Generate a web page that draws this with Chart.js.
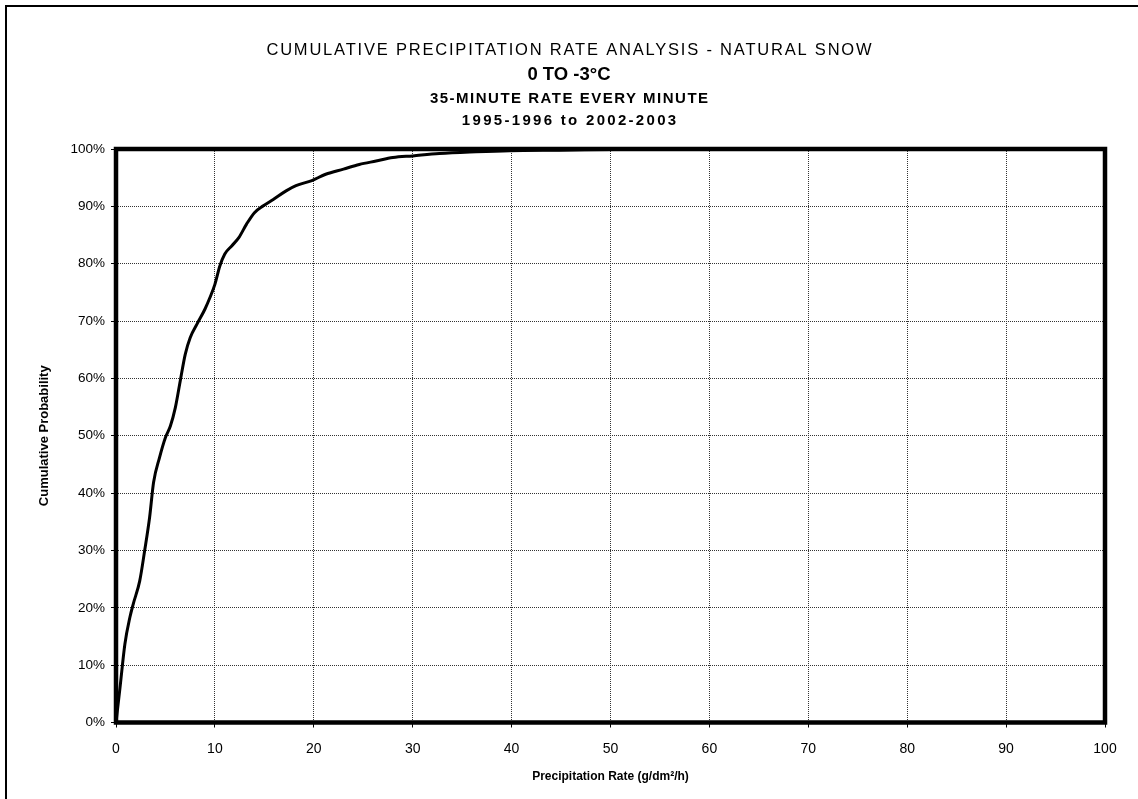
<!DOCTYPE html>
<html><head><meta charset="utf-8">
<script src="https://cdn.jsdelivr.net/npm/chart.js@4"></script>
<style>html,body{margin:0;padding:0;background:#fff}#wrap{width:1138px;height:799px;position:relative}</style>
</head><body><div id="wrap"><canvas id="c" width="1138" height="799"></canvas></div>
<script>
const titleLines = [
  'CUMULATIVE PRECIPITATION RATE ANALYSIS - NATURAL SNOW',
  '0 TO -3\u00B0C',
  '35-MINUTE RATE EVERY MINUTE',
  '1995-1996 to 2002-2003'
];
const xAxisTitle = 'Precipitation Rate (g/dm\u00B2/h)';
const yAxisTitle = 'Cumulative Probability';
const rate = [0, 0.4, 0.9, 1.4, 1.75, 2.4, 2.9, 3.4, 3.8, 4.4, 5.0, 5.5, 6.0, 6.5, 7.0, 7.5, 8.2, 9.0, 9.5, 10.0, 10.5, 11.0, 11.7, 12.4, 13.2, 14.0, 14.9, 15.9, 17.2, 18.2, 19.8, 21.2, 23.0, 24.6, 26.3, 28.0, 30.0, 32.7, 36.4, 39.8, 44.8, 50, 55, 60];
const cumProb = [0, 6, 13.7, 18.3, 20.7, 24.7, 30, 35.8, 41.9, 46.2, 49.7, 51.7, 54.9, 59.6, 64.2, 67.1, 69.5, 72.1, 74.1, 76.4, 79.6, 81.7, 83.1, 84.5, 86.9, 88.9, 90.1, 91.2, 92.7, 93.6, 94.5, 95.6, 96.5, 97.3, 97.9, 98.5, 98.8, 99.2, 99.5, 99.7, 99.8, 99.9, 100, 100];
const xTickLabels = ['0','10','20','30','40','50','60','70','80','90','100'];
const yTickLabels = ['0%','10%','20%','30%','40%','50%','60%','70%','80%','90%','100%'];

const FONT = '"Liberation Sans", Arial, sans-serif';

const decor = {
  id: 'decor',
  beforeDraw(chart) {
    const ctx = chart.ctx;
    ctx.save();
    ctx.fillStyle = '#fff';
    ctx.fillRect(0, 0, chart.width, chart.height);
    ctx.strokeStyle = '#000';
    ctx.lineWidth = 2;
    ctx.strokeRect(6, 6, 1200, 900);
    ctx.fillStyle = '#000';
    ctx.textAlign = 'center';
    ctx.textBaseline = 'middle';
    const cx = chart.width / 2;
    const styles = [
      ['normal', 16.5, 50, 1.8],
      ['bold', 18.5, 75, 0],
      ['bold', 15, 99, 1.5],
      ['bold', 15, 121, 2.3]
    ];
    titleLines.forEach((t, i) => {
      const s = styles[i];
      ctx.font = s[0] + ' ' + s[1] + 'px ' + FONT;
      if ('letterSpacing' in ctx) ctx.letterSpacing = s[3] + 'px';
      ctx.fillText(t, cx + s[3] / 2, s[2]);
    });
    if ('letterSpacing' in ctx) ctx.letterSpacing = '0px';
    ctx.restore();
  },
  afterDraw(chart) {
    const ctx = chart.ctx, a = chart.chartArea;
    ctx.save();
    ctx.strokeStyle = '#000';
    ctx.lineWidth = 4.5;
    ctx.strokeRect(a.left, a.top, a.right - a.left, a.bottom - a.top);
    ctx.restore();
  }
};

new Chart(document.getElementById('c'), {
  type: 'line',
  data: {
    datasets: [{
      data: rate.map((x, i) => ({x: x, y: cumProb[i]})),
      borderColor: '#000',
      borderWidth: 3,
      pointRadius: 0,
      fill: false,
      cubicInterpolationMode: 'monotone'
    }]
  },
  options: {
    responsive: false,
    devicePixelRatio: 1,
    animation: false,
    layout: {padding: {top: 149, right: 33, bottom: 0, left: 0}},
    plugins: {legend: {display: false}, tooltip: {enabled: false}, title: {display: false}},
    scales: {
      x: {
        type: 'linear', min: 0, max: 100,
        afterFit(s) { s.height = 76.5; },
        ticks: {stepSize: 10, color: '#000', font: {family: FONT, size: 14}, padding: 13,
          callback: (v) => xTickLabels[Math.round(v / 10)], maxRotation: 0},
        grid: {color: '#333', lineWidth: 1, tickLength: 5, tickColor: '#000', tickWidth: 1, tickBorderDash: [], borderDash: [1, 1]},
        border: {display: false, dash: [1, 1]},
        title: {display: true, text: xAxisTitle, color: '#000', font: {family: FONT, size: 12, weight: 'bold'}, padding: {top: 0, bottom: 15}}
      },
      y: {
        type: 'linear', min: 0, max: 100,
        afterFit(s) { s.width = 116; },
        ticks: {stepSize: 10, color: '#000', font: {family: FONT, size: 13.5}, padding: 6,
          callback: (v) => yTickLabels[Math.round(v / 10)]},
        grid: {color: '#333', lineWidth: 1, tickLength: 5, tickColor: '#000', tickWidth: 1, tickBorderDash: [], borderDash: [1, 1]},
        border: {display: false, dash: [1, 1]},
        title: {display: true, text: yAxisTitle, color: '#000', font: {family: FONT, size: 13, weight: 'bold'}, padding: {top: 37, bottom: 0}}
      }
    }
  },
  plugins: [decor]
});
</script></body></html>
